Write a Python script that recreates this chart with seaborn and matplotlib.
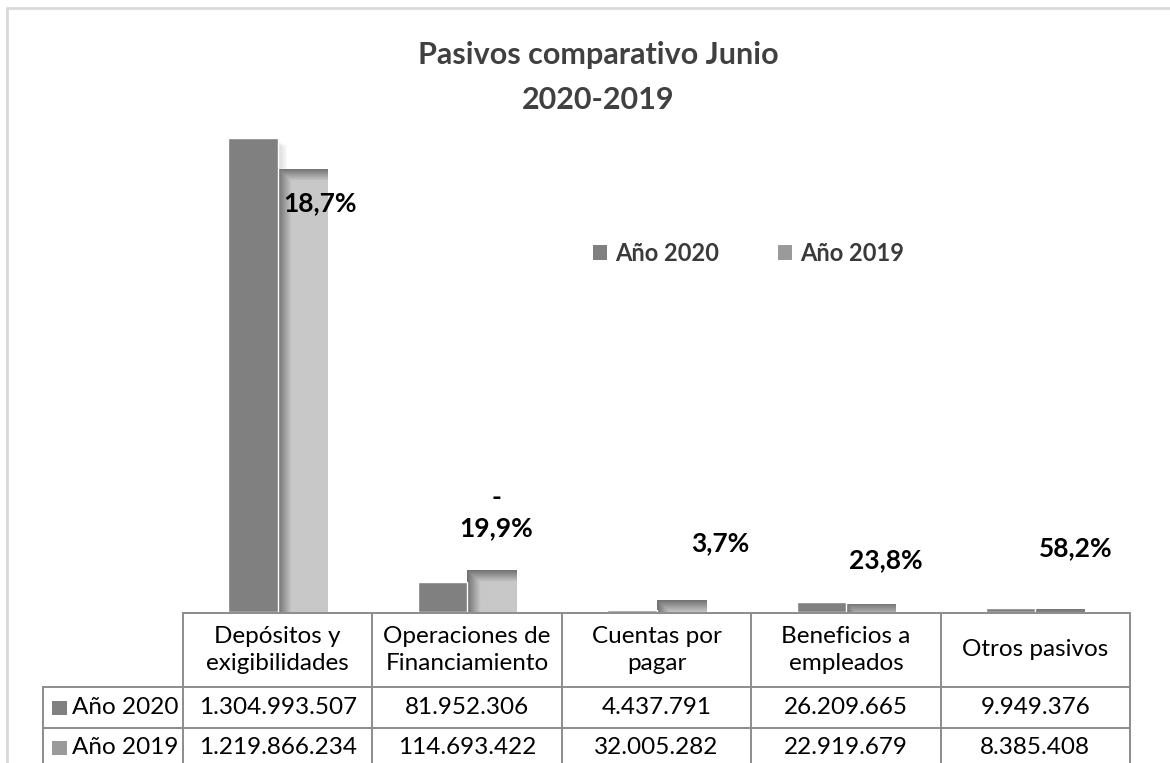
import numpy as np
import pandas as pd
import seaborn as sns
import matplotlib.pyplot as plt
from matplotlib.patches import Patch, Rectangle
from matplotlib.lines import Line2D
from matplotlib import transforms

# Datos del gráfico
categorias = ['Depósitos y\nexigibilidades', 'Operaciones de\nFinanciamiento',
              'Cuentas por\npagar', 'Beneficios a\nempleados', 'Otros pasivos']
valores_2020 = [1304993507, 81952306, 4437791, 26209665, 9949376]
valores_2019 = [1219866234, 114693422, 32005282, 22919679, 8385408]
etiquetas_2020 = ['1.304.993.507', '81.952.306', '4.437.791', '26.209.665', '9.949.376']
etiquetas_2019 = ['1.219.866.234', '114.693.422', '32.005.282', '22.919.679', '8.385.408']
variaciones = ['18,7%', '-\n19,9%', '3,7%', '23,8%', '58,2%']
series = ['Año 2020', 'Año 2019']

# posiciones manuales de las etiquetas (desplazamiento x, altura y)
pos_etiquetas = [(0.223, 1.126e9), (0.153, 0.272e9), (0.335, 0.190e9),
                 (0.212, 0.143e9), (0.215, 0.176e9)]

W, H = 1170, 763
YMAX = 1.4e9


def fx(p):
    return p / W


def fy(p):
    return 1 - p / H


sns.set_style('white')
plt.rcParams['font.family'] = ['Lato', 'DejaVu Sans']

df = pd.DataFrame({
    'categoria': categorias * 2,
    'valor': valores_2020 + valores_2019,
    'serie': [series[0]] * 5 + [series[1]] * 5,
})

fig = plt.figure(figsize=(W / 100, H / 100), dpi=100)
ax_top, ax_bottom = 103.5, 612
ax = fig.add_axes([fx(183), fy(ax_bottom), fx(1130) - fx(183), (ax_bottom - ax_top) / H])

sns.barplot(data=df, x='categoria', y='valor', hue='serie', ax=ax,
            palette={series[0]: '#808080', series[1]: '#c8c8c8'},
            width=0.52, saturation=1, legend=False, errorbar=None)
ax.set_xlim(-0.5, 4.5)
ax.set_ylim(0, YMAX)
ax.axis('off')

bars = sorted(ax.patches, key=lambda p: p.get_x())
bars_2020 = bars[0::2]
bars_2019 = bars[1::2]
unit_px = YMAX / (ax_bottom - ax_top)

# sombra suave de las barras 2020
for p in bars_2020:
    for k in range(1, 7):
        ax.add_patch(Rectangle((p.get_x() + k * 1.6 / 189.4, 0), p.get_width(),
                               max(p.get_height() - (k + 2) * unit_px, 0),
                               color='black', alpha=0.025, lw=0, zorder=1))
    p.set_zorder(3)

# degradado de las barras 2019
for p in bars_2019:
    x0, w, h = p.get_x(), p.get_width(), p.get_height()
    xs = np.linspace(0, 1, 80)
    ys = np.linspace(0, h, 300)
    hf = np.clip(xs / 0.27, 0, 1)
    vf = np.clip((h - ys) / (12 * unit_px), 0, 1)
    f = np.minimum(vf[:, None], hf[None, :])
    img = 0.44 + (0.785 - 0.44) * f
    p.set_zorder(2)
    im = ax.imshow(img, extent=[x0, x0 + w, 0, h], origin='lower', cmap='gray',
                   vmin=0, vmax=1, aspect='auto', interpolation='bilinear', zorder=2.5)
    im.set_clip_path(p)
ax.set_xlim(-0.5, 4.5)
ax.set_ylim(0, YMAX)

# etiquetas de variación
for i, (txt, (dx, y)) in enumerate(zip(variaciones, pos_etiquetas)):
    ax.text(i + dx, y, txt, ha='center', va='center', fontsize=19,
            fontweight='bold', color='black', linespacing=1.3, zorder=5)

# título
fig.text(fx(598), fy(55), 'Pasivos comparativo Junio', ha='center', va='center',
         fontsize=22, fontweight='bold', color='#404040')
fig.text(fx(598), fy(100), '2020-2019', ha='center', va='center',
         fontsize=22, fontweight='bold', color='#404040')

# leyenda
handles = [Patch(facecolor='#808080', edgecolor='none'),
           Patch(facecolor='#9a9a9a', edgecolor='none')]
ax.legend(handles, series, ncol=2, loc='center left', frameon=False,
          bbox_to_anchor=(fx(593), fy(253)), bbox_transform=fig.transFigure,
          borderaxespad=0, borderpad=0,
          handlelength=0.6, handleheight=0.6, handletextpad=0.34, columnspacing=2.5,
          prop={'weight': 'bold', 'size': 17}, labelcolor='#3a3a3a')

# tabla de datos
tr = transforms.blended_transform_factory(ax.transData, fig.transFigure)
grid = '#8c8c8c'
x_left = -0.5 - (183 - 43) / 189.4
y_head, y_r1, y_r2 = 613, 687, 728
lines = [
    ([-0.5, 4.5], [y_head, y_head]),
    ([x_left, 4.5], [y_r1, y_r1]),
    ([x_left, 4.5], [y_r2, y_r2]),
    ([x_left, x_left], [y_r1, H + 5]),
]
for i in range(6):
    lines.append(([i - 0.5, i - 0.5], [y_head, H + 5]))
for xs, ys in lines:
    fig.add_artist(Line2D(xs, [fy(v) for v in ys], transform=tr, color=grid, lw=1.4))

for i, cat in enumerate(categorias):
    fig.text(i, fy((y_head + y_r1) / 2), cat, transform=tr, ha='center', va='center',
             fontsize=17.5, linespacing=1.3, color='black')
    fig.text(i, fy((y_r1 + y_r2) / 2), etiquetas_2020[i], transform=tr,
             ha='center', va='center', fontsize=17.5, color='black')
    fig.text(i, fy(y_r2 + 20), etiquetas_2019[i], transform=tr,
             ha='center', va='center', fontsize=17.5, color='black')

for y_c, nombre, col in [((y_r1 + y_r2) / 2, series[0], '#808080'),
                         (y_r2 + 20, series[1], '#9a9a9a')]:
    fig.add_artist(Rectangle((fx(52), fy(y_c + 7)), fx(15), 14 / H,
                             transform=fig.transFigure, color=col, lw=0))
    fig.text(fx(72), fy(y_c), nombre, ha='left', va='center', fontsize=17.5, color='black')

# borde del gráfico
fig.add_artist(Line2D([fx(7), fx(7)], [fy(8), 0], transform=fig.transFigure,
                      color='#d9d9d9', lw=2))
fig.add_artist(Line2D([fx(7), 1], [fy(8), fy(8)], transform=fig.transFigure,
                      color='#d9d9d9', lw=2))

fig.savefig('out.png', dpi=100, facecolor='white')
